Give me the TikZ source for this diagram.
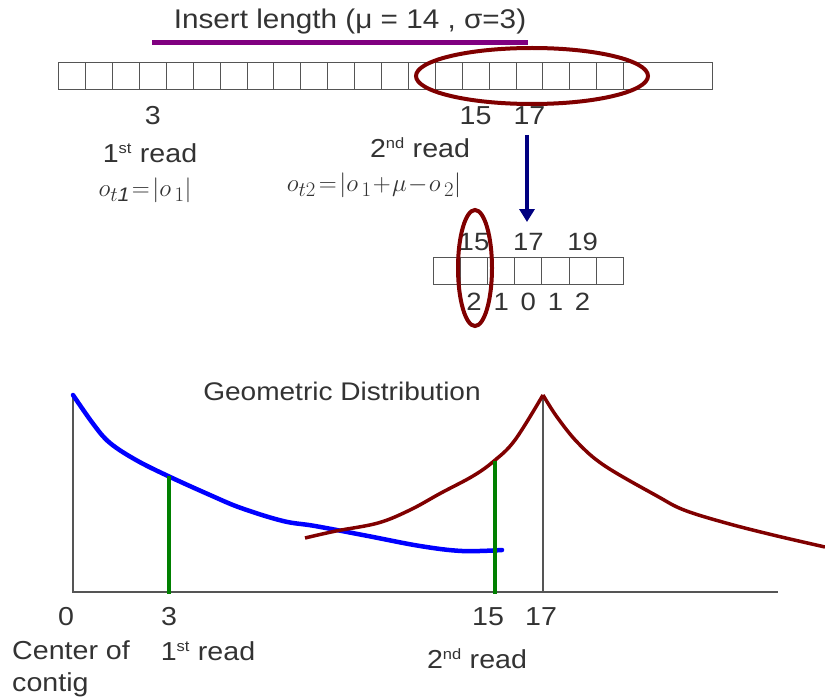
\documentclass[tikz,border=0pt]{standalone}
\usepackage{fontspec}
\setmainfont[FakeStretch=1.1]{Liberation Sans}
\usetikzlibrary{arrows.meta,positioning,calc}
\definecolor{textgray}{HTML}{333333}
\definecolor{linegray}{HTML}{555555}
\definecolor{insertpurple}{HTML}{800080}
\definecolor{ovalred}{HTML}{800000}
\definecolor{arrownavy}{HTML}{000080}
\definecolor{curveblue}{HTML}{0000FF}
\definecolor{readgreen}{HTML}{008000}
\tikzset{
  cell/.style={draw=linegray, line width=1pt, minimum height=27pt,
               minimum width=26.9pt, inner sep=0pt, outer sep=0pt},
  smallcell/.style={cell, minimum width=27.14pt},
  lbl/.style={font=\fontsize{26}{32}\selectfont, text=textgray, inner sep=1pt},
  smalllbl/.style={font=\fontsize{25}{28}\selectfont, text=textgray, inner sep=1pt},
  formula/.style={font=\fontsize{28}{30}\selectfont, text=textgray, inner sep=1pt},
  oval/.style={draw=ovalred, line width=4pt},
  axis/.style={draw=linegray, line width=1.2pt},
  readline/.style={draw=readgreen, line width=4pt},
  pick/.style={-{Triangle[length=13pt,width=15pt]}, line width=4pt, draw=arrownavy}
}
\newcommand{\rd}[2]{#1\textsuperscript{\fontsize{15}{15}\selectfont #2} read}

\begin{document}
\begin{tikzpicture}[x=1pt, y=-1pt]
  \useasboundingbox (0,0) rectangle (825,698);

  % insert length over the contig
  \node[lbl, font=\fontsize{27}{32}\selectfont] (insert) at (350,22) {Insert length (μ = 14 , σ=3)};
  \draw[draw=insertpurple, line width=5pt] (152,43) -- (528,43);

  % contig cells, positions 0..20 and one wide cell
  \foreach \i in {0,...,20}
    \node[cell] (top\i) at ({58.7+26.9*(\i+0.5)},76.5) {};
  \node[cell, minimum width=88.7pt, right=0pt of top20] (toplast) {};
  \draw[oval] (532,76) ellipse [x radius=116, y radius=28];

  \node[lbl] (pos3) at (top3 |- 0,116) {3};
  \node[lbl] (pos15) at (top15 |- 0,116) {15};
  \node[lbl] (pos17) at (top17 |- 0,116) {17};
  \node[lbl] (read1) at (150,153) {\rd{1}{st}};
  \node[lbl] (read2) at (420,148) {\rd{2}{nd}};
  \node[formula] (ot1) at (145,190) {$o_{t\mathit{1}}\!=\!|o_{\,1}|$};
  \node[formula] (ot2) at (374,185) {$o_{t2}\!=\!|o_{\,1}\!+\!\mu\!-\!o_{\,2}|$};

  % window around position 17
  \foreach \i [count=\k from 0] in {14,...,20}
    \node[smallcell] (win\i) at ({433.3+27.14*(\k+0.5)},271) {};
  \node[smalllbl] (win15top) at (win15 |- 0,242) {15};
  \node[smalllbl] (win17top) at (win17 |- 0,242) {17};
  \node[smalllbl] (win19top) at (win19 |- 0,242) {19};
  \foreach \i/\d in {15/2,16/1,17/0,18/1,19/2}
    \node[smalllbl] (dist\i) at (win\i |- 0,302) {\d};
  \draw[oval] (475,268) ellipse [x radius=17, y radius=58];
  \draw[pick] (527,135) -- (527,222);

  % geometric distribution
  \node[font=\fontsize{25.5}{28}\selectfont, text=textgray] (geo) at (342,391) {Geometric Distribution};
  \draw[axis] (73,395) -- (73,592) -- (778,592);
  \draw[axis] (543,395) -- (543,592);
  \draw[draw=curveblue, line width=4.5pt, line cap=round] plot[smooth, tension=0.6] coordinates {
    (73,395) (94,425) (110,443) (136,460) (168,476) (210,495) (241,508)
    (283,521) (315,526) (368,536) (420,546) (462,551) (502,550)};
  \draw[draw=ovalred, line width=3.5pt] plot[smooth, tension=0.6] coordinates {
    (305,538) (336,531) (378,523) (410,510) (441,493) (473,476) (494,461)
    (515,440) (543,395)};
  \draw[draw=ovalred, line width=3.5pt] plot[smooth, tension=0.6] coordinates {
    (543,395) (557,417) (578,443) (605,466) (657,496) (684,510) (726,523)
    (773,535) (825,547)};
  \draw[readline] (169,476) -- (169,594);
  \draw[readline] (495,461) -- (495,594);

  \node[lbl] (x0) at (66,617) {0};
  \node[lbl] (x3) at (169,617) {3};
  \node[lbl] (x15) at (488,617) {15};
  \node[lbl] (x17) at (541,617) {17};
  \node[lbl, anchor=north west, align=left] (center) at (11,639) {Center of\\contig};
  \node[lbl] (read1b) at (208,651) {\rd{1}{st}};
  \node[lbl] (read2b) at (477,659) {\rd{2}{nd}};
\end{tikzpicture}
\end{document}
